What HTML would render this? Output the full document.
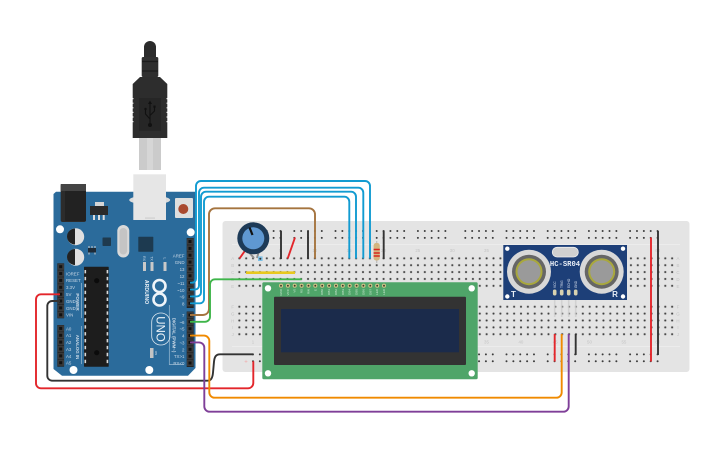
<!DOCTYPE html>
<html><head><meta charset="utf-8"><style>
html,body{margin:0;padding:0;background:#fff}
svg{display:block}
text{font-family:"Liberation Sans",sans-serif}
.w{fill:none;stroke-width:1.9;stroke-linejoin:round;stroke-linecap:butt}
.al{fill:#c9d8e6;font-size:4.4px}
.bl{fill:#c4c4c4;font-size:4.4px}
.pl{fill:#cfe8d4;font-size:3px}
</style></head><body>
<svg width="725" height="453" viewBox="0 0 725 453" xmlns="http://www.w3.org/2000/svg">
<defs>
<pattern id="h" x="235.9" y="254.9" width="6.87" height="6.87" patternUnits="userSpaceOnUse"><circle cx="3.43" cy="3.43" r="1.5" fill="#d2d2d2"/><circle cx="3.43" cy="3.43" r="1" fill="#3c3c3c"/></pattern>
<pattern id="h2" x="235.9" y="303.3" width="6.87" height="6.87" patternUnits="userSpaceOnUse"><circle cx="3.43" cy="3.43" r="1.5" fill="#d2d2d2"/><circle cx="3.43" cy="3.43" r="1" fill="#3c3c3c"/></pattern>
<g id="rg"><g id="rr"><circle cx="0" cy="0" r="1"/><circle cx="6.87" cy="0" r="1"/><circle cx="13.74" cy="0" r="1"/><circle cx="20.61" cy="0" r="1"/><circle cx="27.48" cy="0" r="1"/></g><use href="#rr" y="6.87"/></g>
<g id="rail" fill="#3c3c3c"><use href="#rg" x="253"/><use href="#rg" x="294.3"/><use href="#rg" x="335.5"/><use href="#rg" x="376.7"/><use href="#rg" x="417.9"/><use href="#rg" x="465.3"/><use href="#rg" x="506.5"/><use href="#rg" x="547.7"/><use href="#rg" x="588.9"/><use href="#rg" x="630.1"/></g>
<g id="pin"><rect x="-3" y="-3.1" width="6.4" height="6.2" fill="#3a3a3a"/><rect x="-1.5" y="-1.5" width="3" height="3" fill="#111"/></g>
</defs>

<!-- breadboard -->
<rect x="222.5" y="221" width="467" height="151" rx="3" fill="#e4e4e4"/>
<path d="M232 244.5H680M232 346.5H680" stroke="#ececec" stroke-width="1"/>
<use href="#rail" y="231"/>
<use href="#rail" y="354.4"/>
<rect x="235.9" y="254.9" width="439.7" height="34.35" fill="url(#h)"/>
<rect x="235.9" y="303.3" width="439.7" height="34.35" fill="url(#h2)"/>
<g class="bl" text-anchor="middle">
<text x="232.7" y="260">A</text><text x="232.7" y="267">B</text><text x="232.7" y="274">C</text><text x="232.7" y="281">D</text><text x="232.7" y="288">E</text>
<text x="232.7" y="308.5">F</text><text x="232.7" y="315.5">G</text><text x="232.7" y="322.3">H</text><text x="232.7" y="329">I</text><text x="232.7" y="336">J</text>
<text x="678" y="260">A</text><text x="678" y="267">B</text><text x="678" y="274">C</text><text x="678" y="281">D</text><text x="678" y="288">E</text>
<text x="678" y="308.5">F</text><text x="678" y="315.5">G</text><text x="678" y="322.3">H</text><text x="678" y="329">I</text><text x="678" y="336">J</text>
<text x="253" y="252">1</text><text x="280.4" y="252">5</text><text x="314.8" y="252">10</text><text x="349.1" y="252">15</text><text x="383.5" y="252">20</text><text x="417.8" y="252">25</text><text x="452.2" y="252">30</text><text x="486.5" y="252">35</text><text x="520.9" y="252">40</text><text x="555.2" y="252">45</text><text x="589.5" y="252">50</text><text x="623.9" y="252">55</text><text x="657.7" y="252">60</text>
<text x="253" y="343.5">1</text><text x="486.5" y="343.5">35</text><text x="520.9" y="343.5">40</text><text x="555.2" y="343.5">45</text><text x="589.5" y="343.5">50</text><text x="623.9" y="343.5">55</text><text x="657.7" y="343.5">60</text>
</g>
<text x="246" y="363.5" font-size="6" fill="#f0a9a9" text-anchor="middle">+</text>
<text x="246" y="233" font-size="6" fill="#bbb" text-anchor="middle">-</text>
<text x="246" y="240" font-size="6" fill="#f0a9a9" text-anchor="middle">+</text>

<!-- usb cable -->
<path d="M144 57V47a6 6 0 0 1 12 0V57Z" fill="#2b2b2b"/>
<rect x="141.7" y="57" width="16.6" height="20" rx="1.5" fill="#2f2f2f"/>
<path d="M142 61.5H158M142 71H158" stroke="#1c1c1c" stroke-width="1.2"/>
<path d="M140 77H160L167.3 84V138H132.7V84Z" fill="#2d2d2d"/>
<path d="M133 98V124M167 98V124" stroke="#fff" stroke-width=".9" stroke-dasharray="1.2 3.4"/>
<rect x="139" y="98" width="22" height="33" fill="#262626"/>
<g stroke="#111" stroke-width="1.1" fill="none"><path d="M150 103V124M150 119L145.5 114V110M150 115.5L154.5 111V107.5"/></g>
<circle cx="150" cy="125" r="2" fill="#111"/><circle cx="145.5" cy="109" r="1.2" fill="#111"/><rect x="153.4" y="105.5" width="2.2" height="2.2" fill="#111"/><path d="M148 104L150 100.5L152 104Z" fill="#111"/>
<rect x="139" y="138" width="22" height="32" fill="#cbcbcb"/><rect x="147" y="138" width="6" height="32" fill="#d6d6d6"/>

<!-- arduino -->
<path d="M56 191.7H195.500V368L188 375.700H62L53.500 369V194Z" fill="#2b6b9b"/>
<rect x="60.700" y="184" width="25.300" height="38" rx="2" fill="#2c2c2c"/><rect x="60.700" y="184" width="25.300" height="7" fill="#444"/><rect x="65" y="191" width="21" height="30" rx="1" fill="#222"/>
<ellipse cx="149.700" cy="200" rx="20.500" ry="4.500" fill="#dcdcdc"/>
<rect x="133.300" y="174.300" width="32.700" height="45.700" fill="#e6e6e6"/><rect x="145" y="217.500" width="10" height="1.200" fill="#cfcfcf"/>
<rect x="175" y="198" width="18" height="20" rx="1" fill="#dedede"/><circle cx="183.300" cy="209" r="5" fill="#a9492f"/>
<rect x="95" y="202" width="9" height="6" fill="#d5d5d5"/><rect x="90" y="206" width="18" height="9" fill="#2a2a2a"/><path d="M94 215v5M99 215v5M103.700 215v5" stroke="#ddd" stroke-width="2"/>
<g fill="#fff"><circle cx="60" cy="229.300" r="4"/><circle cx="190.700" cy="232.300" r="4"/><circle cx="73.500" cy="370" r="4"/><circle cx="149.300" cy="370" r="4"/></g>
<circle cx="75.700" cy="236.700" r="8.500" fill="#e0e0e0"/><path d="M75 228.500a8 8 0 0 0 0 16Z" fill="#222"/>
<circle cx="75.700" cy="257.300" r="8.500" fill="#e0e0e0"/><path d="M75 249a8 8 0 0 0 0 16Z" fill="#222"/>
<rect x="88" y="248" width="8" height="4.500" fill="#1e2a36"/><path d="M89 246v2M92 246v2M95 246v2M89 252.500v2M95 252.500v2" stroke="#ccc" stroke-width="1"/>
<rect x="102.500" y="237.500" width="8.500" height="8.500" rx=".7" fill="#1f3a4e"/>
<rect x="117.300" y="225" width="12" height="32.500" rx="6" fill="#d9d9d9"/><rect x="119.500" y="228" width="7.600" height="26.500" rx="3.800" fill="#c4c4c4"/>
<rect x="138.300" y="236.700" width="15" height="15" rx=".5" fill="#1d3a50"/>
<rect x="143" y="262" width="3" height="9" fill="#c9c9c9"/><rect x="150.500" y="262" width="3" height="9" fill="#c9c9c9"/><rect x="163.500" y="262" width="3" height="9" fill="#c9c9c9"/>
<text transform="translate(143 258.500) rotate(90)" font-size="3.500" fill="#c9d8e6" text-anchor="middle">RX</text>
<text transform="translate(150.500 258.500) rotate(90)" font-size="3.500" fill="#c9d8e6" text-anchor="middle">TX</text>
<text transform="translate(163.500 258.500) rotate(90)" font-size="3.500" fill="#c9d8e6" text-anchor="middle">L</text>
<rect x="150" y="348" width="3.500" height="10" fill="#c4c4c4"/>
<text transform="translate(155 353) rotate(90)" font-size="3" fill="#c9d8e6" text-anchor="middle">ON</text>
<rect x="84" y="266.700" width="24.700" height="100" rx=".5" fill="#1d1d1d"/>
<path d="M85.300 270v94M107.400 270v94" stroke="#d8d8d8" stroke-width="1.600" stroke-dasharray="3.400 3.500"/>
<circle cx="96.700" cy="280.700" r="2.600" fill="#0b0b0b"/><circle cx="96.700" cy="352.700" r="2.600" fill="#0b0b0b"/>
<!-- headers -->
<rect x="57.300" y="263.300" width="6.800" height="55" fill="#222"/><rect x="57.300" y="325" width="6.800" height="41.700" fill="#222"/>
<rect x="186.700" y="238" width="7" height="70" fill="#222"/><rect x="186.700" y="311.500" width="7" height="55.500" fill="#222"/>
<g>
<use href="#pin" x="60.700" y="266.700"/><use href="#pin" x="60.700" y="273.600"/><use href="#pin" x="60.700" y="280.400"/><use href="#pin" x="60.700" y="287.300"/><use href="#pin" x="60.700" y="294.200"/><use href="#pin" x="60.700" y="301"/><use href="#pin" x="60.700" y="307.900"/><use href="#pin" x="60.700" y="314.800"/>
<use href="#pin" x="60.700" y="328.400"/><use href="#pin" x="60.700" y="335.300"/><use href="#pin" x="60.700" y="342.100"/><use href="#pin" x="60.700" y="349"/><use href="#pin" x="60.700" y="355.900"/><use href="#pin" x="60.700" y="362.700"/>
<use href="#pin" x="190" y="241.500"/><use href="#pin" x="190" y="248.400"/><use href="#pin" x="190" y="255.200"/><use href="#pin" x="190" y="262.100"/><use href="#pin" x="190" y="269"/><use href="#pin" x="190" y="275.800"/><use href="#pin" x="190" y="282.700"/><use href="#pin" x="190" y="289.600"/><use href="#pin" x="190" y="296.400"/><use href="#pin" x="190" y="303.300"/>
<use href="#pin" x="190" y="315"/><use href="#pin" x="190" y="321.800"/><use href="#pin" x="190" y="328.700"/><use href="#pin" x="190" y="335.600"/><use href="#pin" x="190" y="342.400"/><use href="#pin" x="190" y="349.300"/><use href="#pin" x="190" y="356.200"/><use href="#pin" x="190" y="363"/>
</g>
<g class="al">
<text x="66" y="275.500">IOREF</text><text x="66" y="282">RESET</text><text x="66" y="289">3.3V</text><text x="66" y="296">5V</text><text x="66" y="303">GND</text><text x="66" y="309.800">GND</text><text x="66" y="316.600">VIN</text>
<text x="66" y="330.400">A0</text><text x="66" y="337.200">A1</text><text x="66" y="344">A2</text><text x="66" y="350.900">A3</text><text x="66" y="357.800">A4</text><text x="66" y="364.600">A5</text>
</g>
<g class="al" text-anchor="end">
<text x="184.500" y="257.500">AREF</text><text x="184.500" y="264">GND</text><text x="184.500" y="271">13</text><text x="184.500" y="278">12</text><text x="184.500" y="285">~11</text><text x="184.500" y="292">~10</text><text x="184.500" y="298.700">~9</text><text x="184.500" y="305.500">8</text>
<text x="184.500" y="317">7</text><text x="184.500" y="323.800">~6</text><text x="184.500" y="330.700">~5</text><text x="184.500" y="337.600">4</text><text x="184.500" y="344.400">~3</text><text x="184.500" y="351.300">2</text><text x="184.500" y="358.200">TX&gt;1</text><text x="184.500" y="365">RX&lt;0</text>
</g>
<path d="M81.500 283V318M81.500 326V364M169.300 305V364.500H184" stroke="#9dbcd4" stroke-width=".7" fill="none"/>
<text transform="translate(76 302) rotate(90)" font-size="4.600" font-weight="bold" fill="#c9d8e6" text-anchor="middle">POWER</text>
<text transform="translate(76 347) rotate(90)" font-size="4.400" font-weight="bold" fill="#c9d8e6" text-anchor="middle">ANALOG IN</text>
<text transform="translate(172.500 335) rotate(90)" font-size="4.400" font-weight="bold" fill="#c9d8e6" text-anchor="middle">DIGITAL (PWM~)</text>
<text transform="translate(145 292) rotate(90)" font-size="5.200" font-weight="bold" fill="#e6eef5" text-anchor="middle">ARDUINO</text>
<g fill="none" stroke="#eef4f9" stroke-width="2.600"><circle cx="159.500" cy="286" r="6"/><circle cx="159.500" cy="299.500" r="6"/></g>
<rect x="151.700" y="313" width="18.300" height="32" rx="9" fill="none" stroke="#dfe9f1" stroke-width=".8"/>
<text transform="translate(156.500 329) rotate(90)" font-size="11.500" fill="#eef4f9" text-anchor="middle">UNO</text>

<!-- LCD -->
<rect x="262.300" y="282.300" width="215.400" height="97" rx="1.500" fill="#4fa569"/>
<g fill="#fff"><circle cx="268" cy="288.300" r="3.200"/><circle cx="471.700" cy="288.300" r="3.200"/><circle cx="268" cy="373.300" r="3.200"/><circle cx="471.700" cy="373.300" r="3.200"/></g>
<rect x="274" y="296.700" width="192" height="68.300" rx="1" fill="#333"/>
<rect x="281" y="309" width="178" height="43.300" fill="#1b2b4b"/>
<g fill="#3a3a2a" stroke="#d0c388" stroke-width="1.100">
<circle cx="281" cy="285.700" r="1.500"/><circle cx="287.900" cy="285.700" r="1.500"/><circle cx="294.700" cy="285.700" r="1.500"/><circle cx="301.600" cy="285.700" r="1.500"/><circle cx="308.500" cy="285.700" r="1.500"/><circle cx="315.300" cy="285.700" r="1.500"/><circle cx="322.200" cy="285.700" r="1.500"/><circle cx="329.100" cy="285.700" r="1.500"/><circle cx="336" cy="285.700" r="1.500"/><circle cx="342.800" cy="285.700" r="1.500"/><circle cx="349.700" cy="285.700" r="1.500"/><circle cx="356.600" cy="285.700" r="1.500"/><circle cx="363.400" cy="285.700" r="1.500"/><circle cx="370.300" cy="285.700" r="1.500"/><circle cx="377.200" cy="285.700" r="1.500"/><circle cx="384" cy="285.700" r="1.500"/>
</g>
<g class="pl" text-anchor="end">
<text transform="translate(282 289) rotate(-90)">GND</text><text transform="translate(288.900 289) rotate(-90)">VCC</text><text transform="translate(295.700 289) rotate(-90)">V0</text><text transform="translate(302.600 289) rotate(-90)">RS</text><text transform="translate(309.500 289) rotate(-90)">RW</text><text transform="translate(316.300 289) rotate(-90)">E</text><text transform="translate(323.200 289) rotate(-90)">DB0</text><text transform="translate(330.100 289) rotate(-90)">DB1</text><text transform="translate(337 289) rotate(-90)">DB2</text><text transform="translate(343.800 289) rotate(-90)">DB3</text><text transform="translate(350.700 289) rotate(-90)">DB4</text><text transform="translate(357.600 289) rotate(-90)">DB5</text><text transform="translate(364.400 289) rotate(-90)">DB6</text><text transform="translate(371.300 289) rotate(-90)">DB7</text><text transform="translate(378.200 289) rotate(-90)">LED</text><text transform="translate(385 289) rotate(-90)">LED</text>
</g>

<!-- potentiometer -->
<path d="M247 250L254 258M259 251L257 258" stroke="#8f8f8f" stroke-width="2"/>
<rect x="258" y="256.400" width="4.600" height="4.600" fill="#7cc0e6"/><circle cx="260.300" cy="258.700" r="1" fill="#333"/>
<path d="M239.500 258.500L245.500 250" stroke="#e3262b" stroke-width="1.900"/>
<circle cx="253.300" cy="238.300" r="16" fill="#1d3a57"/>
<circle cx="253.300" cy="238.300" r="11" fill="#5f98d2"/>
<path d="M249.500 227.500L252.500 235" stroke="#111" stroke-width="2.200"/>

<!-- resistor -->
<path d="M376.700 241V263" stroke="#bbb" stroke-width="1.200"/>
<rect x="373.600" y="243" width="6.200" height="17.500" rx="2.500" fill="#d4b57f"/>
<path d="M373.600 249.500H379.800M373.600 253H379.800M373.600 256H379.800" stroke="#d8261f" stroke-width="1.400"/>

<!-- sensor -->
<path d="M554.700 298V317M561.700 298V317M568.700 298V317M575.700 298V317" stroke="#cfcfcf" stroke-width="1.600" opacity=".85"/>
<rect x="503.300" y="245" width="123.700" height="55" fill="#1d3f78"/>
<g fill="#fff"><circle cx="507.300" cy="248.700" r="2.200"/><circle cx="623" cy="248.700" r="2.200"/><circle cx="507.300" cy="296.500" r="2.200"/><circle cx="623" cy="296.500" r="2.200"/></g>
<rect x="552.300" y="247.300" width="26" height="9.700" rx="4.800" fill="#d0d0d0" stroke="#eee" stroke-width=".8"/>
<text x="565" y="266" font-size="7.200" font-weight="bold" fill="#e8eef6" text-anchor="middle" style="font-family:'Liberation Mono',monospace">HC-SR04</text>
<g id="tx"><circle cx="529" cy="271.700" r="22" fill="#d8d8d8"/><circle cx="529" cy="271.700" r="17" fill="#666"/><circle cx="529" cy="271.700" r="13.500" fill="#a9a83c"/><circle cx="529" cy="271.700" r="11.500" fill="#9a9a9a"/></g>
<use href="#tx" x="72.700"/>
<text x="513.500" y="297" font-size="8" font-weight="bold" fill="#e8eef6" text-anchor="middle">T</text>
<text x="615" y="297" font-size="8" font-weight="bold" fill="#e8eef6" text-anchor="middle">R</text>
<g fill="#d8d2b0"><rect x="552.900" y="289.500" width="3.600" height="6" rx="1.700"/><rect x="559.900" y="289.500" width="3.600" height="6" rx="1.700"/><rect x="566.900" y="289.500" width="3.600" height="6" rx="1.700"/><rect x="573.900" y="289.500" width="3.600" height="6" rx="1.700"/></g>
<g font-size="3.200" fill="#dfe7f2" text-anchor="start">
<text transform="translate(556 288) rotate(-90)">VCC</text><text transform="translate(563 288) rotate(-90)">TRIG</text><text transform="translate(570 288) rotate(-90)">ECHO</text><text transform="translate(577 288) rotate(-90)">GND</text>
</g>

<!-- breadboard wires -->
<g class="w">
<path d="M281 230.700V259M308 230.700V259M383.700 230.700V259M658 231V355M575.700 334V355" stroke="#333"/>
<path d="M295 237.500L287.700 258.500M651 237.500V361.500M554.700 334V361.500" stroke="#e3262b"/>
</g>
<path d="M246 272.700H295" stroke="#e8c81e" stroke-width="2.600"/>

<!-- long wires -->
<g class="w">
<path d="M60 294.300H41a5 5 0 0 0-5 5V383a5 5 0 0 0 5 5.300H248a5.300 5.300 0 0 0 5.300-5.300V361.300" stroke="#e3262b"/>
<path d="M60 301H52.300a5 5 0 0 0-5 5V375.700a5 5 0 0 0 5 5H207c4 0 5.500-2.500 6-8l1-11c.5-5 2-7.400 6-7.400H253.300" stroke="#333"/>
<path d="M190 282.700H192a4 4 0 0 0 4-4V186a5 5 0 0 1 5-5H365a5 5 0 0 1 5 5V258.500" stroke="#129bd1"/>
<path d="M190 289.600H195a4 4 0 0 0 4-4V192.700a5 5 0 0 1 5-5H358.300a5 5 0 0 1 5 5V258.500" stroke="#129bd1"/>
<path d="M190 296.400H197a4 4 0 0 0 4-4V196.700a5 5 0 0 1 5-5H351a5 5 0 0 1 5 5V258.500" stroke="#129bd1"/>
<path d="M190 303.300H200a4 4 0 0 0 4-4V201.700a5 5 0 0 1 5-5H344.300a5 5 0 0 1 5 5V258.500" stroke="#129bd1"/>
<path d="M190 315H203a6 6 0 0 0 6-6V214.300a6 6 0 0 1 6-6H309a6 6 0 0 1 6 6V258.500" stroke="#a5743f"/>
<path d="M190 321.800H205a5 5 0 0 0 5-5V284.300a5 5 0 0 1 5-5H301.700" stroke="#3fb54a"/>
<path d="M190 335.600H204a5.300 5.300 0 0 1 5.300 5.300V392.400a5.300 5.300 0 0 0 5.300 5.300H556.400a5.300 5.300 0 0 0 5.300-5.300V334" stroke="#f08a00"/>
<path d="M190 342.400H199a5.300 5.300 0 0 1 5.300 5.300V406.400a5.300 5.300 0 0 0 5.300 5.300H563.400a5.300 5.300 0 0 0 5.300-5.300V334" stroke="#7f3f98"/>
</g>
</svg>
</body></html>
